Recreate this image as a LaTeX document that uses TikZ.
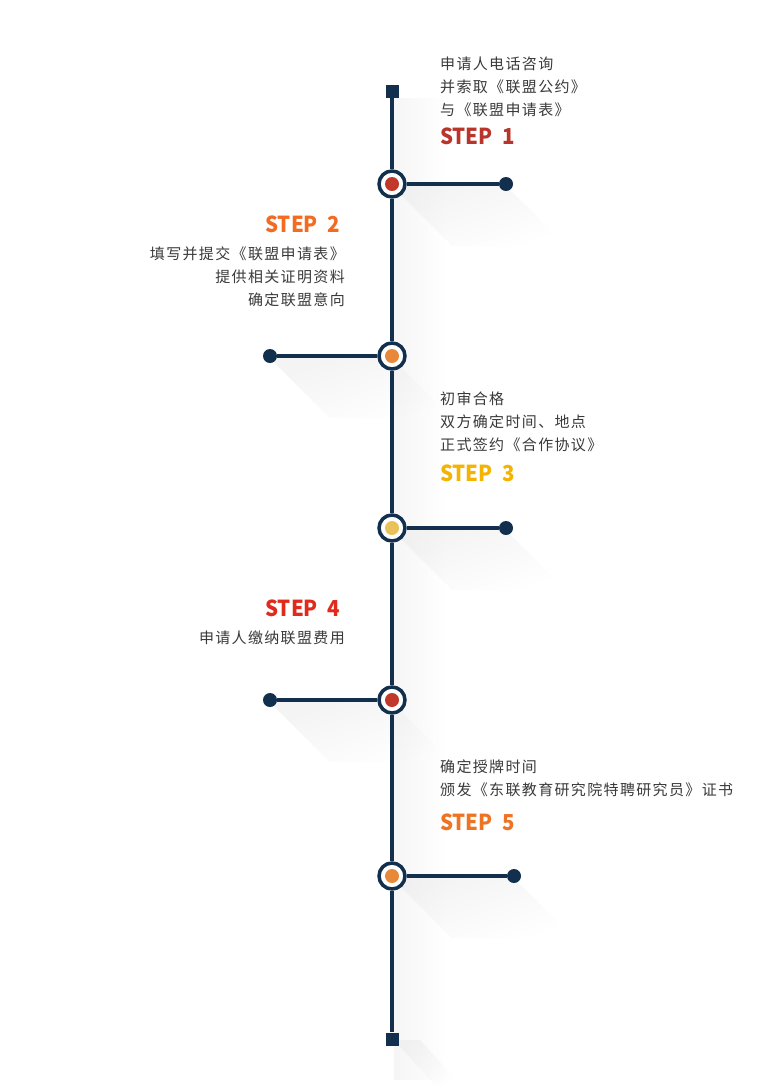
\documentclass[tikz,border=0pt]{standalone}
\usepackage{fontspec}
\setmainfont[LetterSpace=9]{Noto Sans CJK SC}
\newfontfamily\stepfont[FakeStretch=0.93]{Noto Sans CJK SC}
\usepackage{tikz}
\usetikzlibrary{fadings}

\definecolor{navy}{HTML}{12304E}
\definecolor{txtgray}{HTML}{3A3A3A}
\definecolor{dotred}{HTML}{C0392B}
\definecolor{dotorange}{HTML}{E8893A}
\definecolor{dotyellow}{HTML}{E9C25A}
\definecolor{stepone}{HTML}{B9342A}
\definecolor{steptwo}{HTML}{F26B21}
\definecolor{stepthree}{HTML}{F3B300}
\definecolor{stepfour}{HTML}{DF2A1C}
\definecolor{stepfive}{HTML}{EE7424}

\tikzfading[name=fade right, left color=transparent!40, right color=transparent!100]
\tikzfading[name=fade down, top color=transparent!45, bottom color=transparent!100]

\tikzset{
  hub/.style={draw=navy,line width=3.5pt,circle,fill=white,minimum size=26pt,inner sep=0pt,
    path picture={\fill[#1] (path picture bounding box.center) circle (7pt);}},
  enddot/.style={circle,fill=navy,minimum size=14pt,inner sep=0pt},
  endsq/.style={rectangle,fill=navy,minimum size=13pt,inner sep=0pt},
  spine/.style={draw=navy,line width=3.5pt},
  txt/.style={text=txtgray,font=\fontsize{15}{23}\selectfont,inner sep=0pt},
  steplabel/.style={text=#1,font=\stepfont\bfseries\fontsize{22}{22}\selectfont,inner sep=0pt},
  shade/.style={fill=black!8,path fading=fade down,fading angle=45}
}

\begin{document}
\begin{tikzpicture}[x=1pt,y=-1pt]
  \fill[white] (0,0) rectangle (780,1090);
  \useasboundingbox (0,0) rectangle (780,1090);

  % shadows
  \fill[black!6,path fading=fade right] (394,98) rectangle (444,1080);
  \fill[shade] (392,186) -- (506,186) -- (566,246) -- (452,246) -- cycle;
  \fill[shade] (270,358) -- (392,358) -- (452,418) -- (330,418) -- cycle;
  \fill[shade] (392,530) -- (506,530) -- (566,590) -- (452,590) -- cycle;
  \fill[shade] (270,702) -- (392,702) -- (452,762) -- (330,762) -- cycle;
  \fill[shade] (392,878) -- (514,878) -- (574,938) -- (452,938) -- cycle;
  \fill[shade] (394,1040) -- (420,1040) -- (462,1086) -- (436,1086) -- cycle;

  % ends of the line
  \node[endsq](top) at (392,91) {};
  \node[endsq](bot) at (392,1039) {};

  % steps on the line
  \node[hub=dotred](c1) at (392,184) {};
  \node[hub=dotorange](c2) at (392,356) {};
  \node[hub=dotyellow](c3) at (392,528) {};
  \node[hub=dotred](c4) at (392,700) {};
  \node[hub=dotorange](c5) at (392,876) {};

  \node[enddot](d1) at (506,184) {};
  \node[enddot](d2) at (270,356) {};
  \node[enddot](d3) at (506,528) {};
  \node[enddot](d4) at (270,700) {};
  \node[enddot](d5) at (514,876) {};

  \draw[spine](top) -- (c1);
  \draw[spine](c1) -- (c2);
  \draw[spine](c2) -- (c3);
  \draw[spine](c3) -- (c4);
  \draw[spine](c4) -- (c5);
  \draw[spine](c5) -- (bot);

  \draw[spine](c1) -- (d1);
  \draw[spine](c2) -- (d2);
  \draw[spine](c3) -- (d3);
  \draw[spine](c4) -- (d4);
  \draw[spine](c5) -- (d5);

  % texts
  \node[txt,anchor=north west,align=left](t1) at (440,57)
    {申请人电话咨询\\并索取《联盟公约》\\与《联盟申请表》};
  \node[steplabel=stepone,anchor=west](s1) at (440,136) {STEP\ \ 1};

  \node[steplabel=steptwo,anchor=east](s2) at (340,224) {STEP\ \ 2};
  \node[txt,anchor=north east,align=right](t2) at (345,247)
    {填写并提交《联盟申请表》\\提供相关证明资料\\确定联盟意向};

  \node[txt,anchor=north west,align=left](t3) at (440,392)
    {初审合格\\双方确定时间、地点\\正式签约《合作协议》};
  \node[steplabel=stepthree,anchor=west](s3) at (440,473) {STEP\ \ 3};

  \node[steplabel=stepfour,anchor=east](s4) at (340,608) {STEP\ \ 4};
  \node[txt,anchor=north east,align=right](t4) at (345,631)
    {申请人缴纳联盟费用};

  \node[txt,anchor=north west,align=left](t5) at (440,760)
    {确定授牌时间\\颁发《东联教育研究院特聘研究员》证书};
  \node[steplabel=stepfive,anchor=west](s5) at (440,822) {STEP\ \ 5};
\end{tikzpicture}
\end{document}
